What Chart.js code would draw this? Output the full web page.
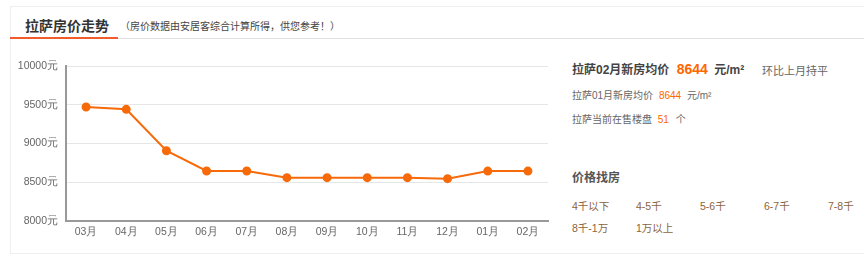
<!DOCTYPE html>
<html>
<head>
<meta charset="utf-8">
<script src="https://cdn.jsdelivr.net/npm/chart.js@4.4.1/dist/chart.umd.min.js"></script>
<style>
    body { margin: 0; background: #fff; font-family: "Liberation Sans", "Noto Sans CJK SC", sans-serif; color: #666; }
    #box { position: absolute; left: 10px; top: 6px; width: 880px; height: 246px; border: 1px solid #eeeeee; }
    #head { position: absolute; left: 10px; top: 38px; width: 880px; height: 1px; background: #e2e2e2; }
    #headBar { position: absolute; left: 10px; top: 37px; width: 108px; height: 2px; background: #f25b2a; }
    #title { position: absolute; left: 25px; top: 15px; font-size: 14px; font-weight: bold; color: #333; }
    #subtitle { position: absolute; left: 120px; top: 18px; font-size: 10px; color: #444; }
    #chartWrap { position: absolute; left: 0; top: 50px; width: 560px; height: 195px; }
    .t { position: absolute; white-space: nowrap; }
    .org { color: #f60; }
    .lnk { position: absolute; font-size: 10.5px; color: #8a6440; white-space: nowrap; }
</style>
</head>
<body>
<div id="box"></div>
<div id="head"></div>
<div id="headBar"></div>
<div id="title">拉萨房价走势</div>
<div id="subtitle">（房价数据由安居客综合计算所得，供您参考！）</div>
<div id="chartWrap"><canvas id="priceChart"></canvas></div>

<div class="t" style="left:572px;top:60px;font-size:12px;font-weight:bold;color:#444;">拉萨02月新房均价 <span class="org" style="font-size:14px;margin-left:4px;">8644</span> <span style="margin-left:3px;">元/m²</span></div>
<div class="t" style="left:762px;top:62px;font-size:11px;color:#666;">环比上月持平</div>
<div class="t" style="left:572px;top:87px;font-size:10px;color:#666;">拉萨01月新房均价 <span class="org" style="margin-left:3px;">8644</span> <span style="margin-left:3px;">元/m²</span></div>
<div class="t" style="left:572px;top:111px;font-size:10px;color:#666;">拉萨当前在售楼盘 <span class="org" style="margin-left:3px;">51</span> <span style="margin-left:4px;">个</span></div>
<div class="t" style="left:572px;top:168px;font-size:12px;font-weight:bold;color:#555;">价格找房</div>
<div id="links"></div>

<script>
const months = ['03月', '04月', '05月', '06月', '07月', '08月', '09月', '10月', '11月', '12月', '01月', '02月'];
const prices = [9471, 9441, 8907, 8645, 8645, 8559, 8559, 8559, 8559, 8546, 8644, 8644];
const yTicks = [8000, 8500, 9000, 9500, 10000];
const priceLinks = ['4千以下', '4-5千', '5-6千', '6-7千', '7-8千', '8千-1万', '1万以上'];

// price range links, 5 per row
const linksDiv = document.getElementById('links');
priceLinks.forEach((txt, i) => {
    const el = document.createElement('div');
    el.className = 'lnk';
    el.style.left = (572 + (i % 5) * 64) + 'px';
    el.style.top = (198 + Math.floor(i / 5) * 22) + 'px';
    el.textContent = txt;
    linksDiv.appendChild(el);
});

const ctx = document.getElementById('priceChart').getContext('2d');
new Chart(ctx, {
    type: 'line',
    data: {
        labels: months,
        datasets: [{
            data: prices,
            borderColor: '#f66a0a',
            backgroundColor: '#f66a0a',
            borderWidth: 2,
            pointRadius: 3.5,
            pointHoverRadius: 3.5,
            tension: 0
        }]
    },
    options: {
        responsive: true,
        maintainAspectRatio: false,
        animation: false,
        layout: { padding: { top: 16, right: 12, bottom: 0, left: 0 } },
        plugins: { legend: { display: false }, tooltip: { enabled: false } },
        scales: {
            x: {
                offset: true,
                grid: { display: false, drawTicks: false },
                border: { color: '#999', width: 2 },
                ticks: { color: '#666', font: { size: 10.5 }, padding: 5 },
                afterFit: s => { s.height = 24; }
            },
            y: {
                min: 8000,
                max: 10000,
                afterBuildTicks: s => { s.ticks = yTicks.map(v => ({ value: v })); },
                grid: { color: '#e6e6e6', lineWidth: 1, drawTicks: false },
                border: { color: '#999', width: 2 },
                ticks: { color: '#666', font: { size: 10.5 }, padding: 8, callback: v => v + '元' },
                afterFit: s => { s.width = 66; }
            }
        }
    }
});
</script>
</body>
</html>
